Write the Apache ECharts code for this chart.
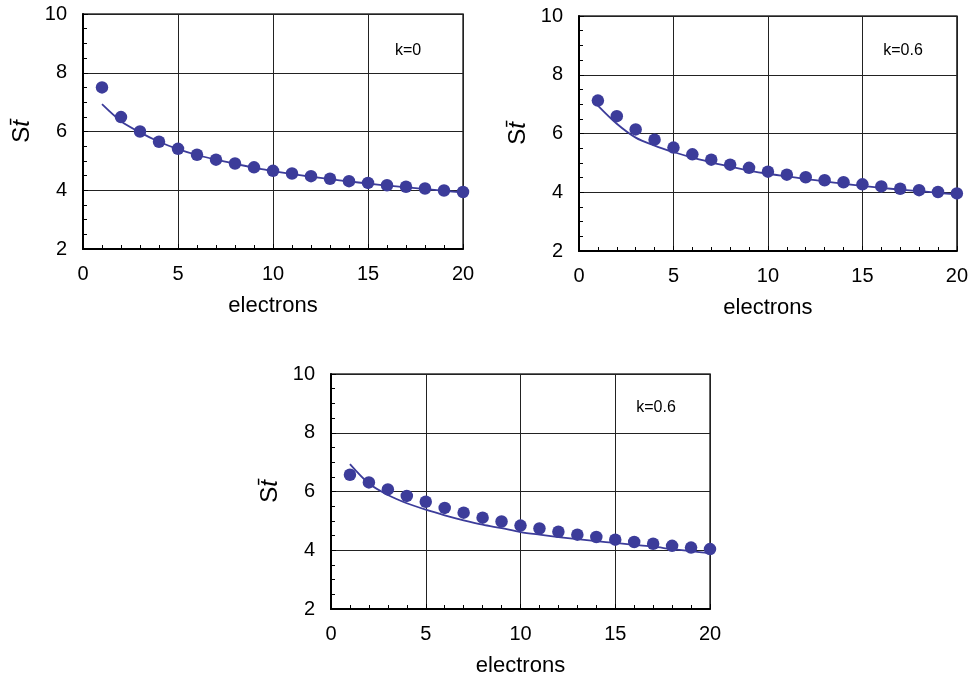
<!DOCTYPE html>
<html>
<head>
<meta charset="utf-8">
<script src="https://cdn.jsdelivr.net/npm/echarts@6/dist/echarts.min.js"></script>
<style>
  html, body { margin: 0; padding: 0; background: #fff; }
  #chart { width: 971px; height: 682px; }
</style>
</head>
<body>
<div id="chart"></div>
<script>
// Electron count on the horizontal axis
const electrons = [1, 2, 3, 4, 5, 6, 7, 8, 9, 10, 11, 12, 13, 14, 15, 16, 17, 18, 19, 20];

// Computed values (dots) for each panel
const dotsK0 = [7.50, 6.49, 6.00, 5.65, 5.41, 5.21, 5.04, 4.91, 4.78, 4.66, 4.57, 4.48, 4.39, 4.31, 4.25, 4.17, 4.12, 4.06, 3.99, 3.94];
const dotsK06 = [7.12, 6.59, 6.14, 5.79, 5.52, 5.29, 5.11, 4.94, 4.83, 4.70, 4.60, 4.51, 4.41, 4.34, 4.27, 4.20, 4.12, 4.07, 4.01, 3.96];
const dotsK06b = [6.57, 6.31, 6.07, 5.85, 5.65, 5.44, 5.28, 5.11, 4.98, 4.84, 4.74, 4.63, 4.53, 4.45, 4.36, 4.28, 4.22, 4.15, 4.09, 4.04];

// Reference curves, sampled at each electron count
const curveK0 = [6.93, 6.35, 5.97, 5.65, 5.40, 5.20, 5.04, 4.90, 4.77, 4.65, 4.55, 4.46, 4.38, 4.30, 4.23, 4.16, 4.10, 4.04, 3.98, 3.93];
const curveK06 = [6.95, 6.33, 5.86, 5.59, 5.37, 5.18, 5.02, 4.87, 4.74, 4.63, 4.54, 4.45, 4.37, 4.29, 4.22, 4.15, 4.09, 4.04, 3.98, 3.93];
const curveK06b = [6.93, 6.27, 5.88, 5.60, 5.38, 5.19, 5.02, 4.87, 4.75, 4.62, 4.53, 4.45, 4.38, 4.31, 4.25, 4.18, 4.12, 4.04, 3.97, 3.90];

// Axis ticks
const xTicks = [0, 5, 10, 15, 20];
const yTicks = [2, 4, 6, 8, 10];

const panelLabels = ['k=0', 'k=0.6', 'k=0.6'];
const panelDots = [dotsK0, dotsK06, dotsK06b];
const panelCurves = [curveK0, curveK06, curveK06b];

const FONT = "'Liberation Sans', Arial, sans-serif";
const INK = '#3c3c9a';

const grids = [
  { left: 83, top: 14, width: 380, height: 235 },
  { left: 579, top: 16, width: 379, height: 235 },
  { left: 331, top: 374, width: 379, height: 235 }
];
const labelPos = [
  { left: 403, top: 38 },
  { left: 898, top: 38 },
  { left: 651, top: 395 }
];

const xAxes = [], yAxes = [], series = [], titles = [];

grids.forEach((g, i) => {
  xAxes.push({
    gridIndex: i,
    type: 'value',
    min: xTicks[0],
    max: xTicks[xTicks.length - 1],
    interval: xTicks[1] - xTicks[0],
    name: 'electrons',
    nameLocation: 'middle',
    nameGap: 46,
    nameTextStyle: { fontFamily: FONT, fontSize: 22, color: '#000' },
    axisLine: { lineStyle: { color: '#000', width: 2 } },
    axisTick: { show: true, inside: true, length: 5, lineStyle: { color: '#000' } },
    minorTick: { show: true, splitNumber: 5, length: 4, lineStyle: { color: '#000' } },
    axisLabel: { fontFamily: FONT, fontSize: 20, color: '#000', margin: 15 },
    splitLine: { show: true, lineStyle: { color: '#222', width: 1 } }
  });
  yAxes.push({
    gridIndex: i,
    type: 'value',
    min: yTicks[0],
    max: yTicks[yTicks.length - 1],
    interval: yTicks[1] - yTicks[0],
    name: '{s|S}{t|t\u0304}',
    nameLocation: 'middle',
    nameRotate: 90,
    nameGap: 49,
    nameTextStyle: {
      fontFamily: FONT, fontSize: 24, color: '#000',
      rich: {
        s: { fontFamily: FONT, fontSize: 24, color: '#000' },
        t: { fontFamily: FONT, fontSize: 24, color: '#000', fontStyle: 'italic' }
      }
    },
    axisLine: { lineStyle: { color: '#000', width: 2 } },
    axisTick: { show: true, inside: true, length: 5, lineStyle: { color: '#000' } },
    minorTick: { show: true, splitNumber: 4, length: 4, lineStyle: { color: '#000' } },
    axisLabel: { fontFamily: FONT, fontSize: 20, color: '#000', margin: 16 },
    splitLine: { show: true, lineStyle: { color: '#222', width: 1 } }
  });
  series.push({
    type: 'line',
    xAxisIndex: i,
    yAxisIndex: i,
    data: electrons.map((x, k) => [x, panelCurves[i][k]]),
    smooth: 0.3,
    showSymbol: false,
    lineStyle: { color: INK, width: 1.8 },
    z: 3
  });
  series.push({
    type: 'scatter',
    xAxisIndex: i,
    yAxisIndex: i,
    data: electrons.map((x, k) => [x, panelDots[i][k]]),
    symbol: 'circle',
    symbolSize: 12.5,
    itemStyle: { color: INK, opacity: 1 },
    z: 4
  });
  titles.push({
    text: panelLabels[i],
    left: labelPos[i].left,
    top: labelPos[i].top,
    textAlign: 'center',
    textStyle: { fontFamily: FONT, fontSize: 16, fontWeight: 'normal', color: '#000' }
  });
});

const chart = echarts.init(document.getElementById('chart'), null, { renderer: 'canvas' });
chart.setOption({
  animation: false,
  backgroundColor: '#fff',
  title: titles,
  grid: grids.map(g => Object.assign({ show: true, borderColor: '#333', borderWidth: 1.5, backgroundColor: 'transparent' }, g)),
  xAxis: xAxes,
  yAxis: yAxes,
  series: series
});
</script>
</body>
</html>
